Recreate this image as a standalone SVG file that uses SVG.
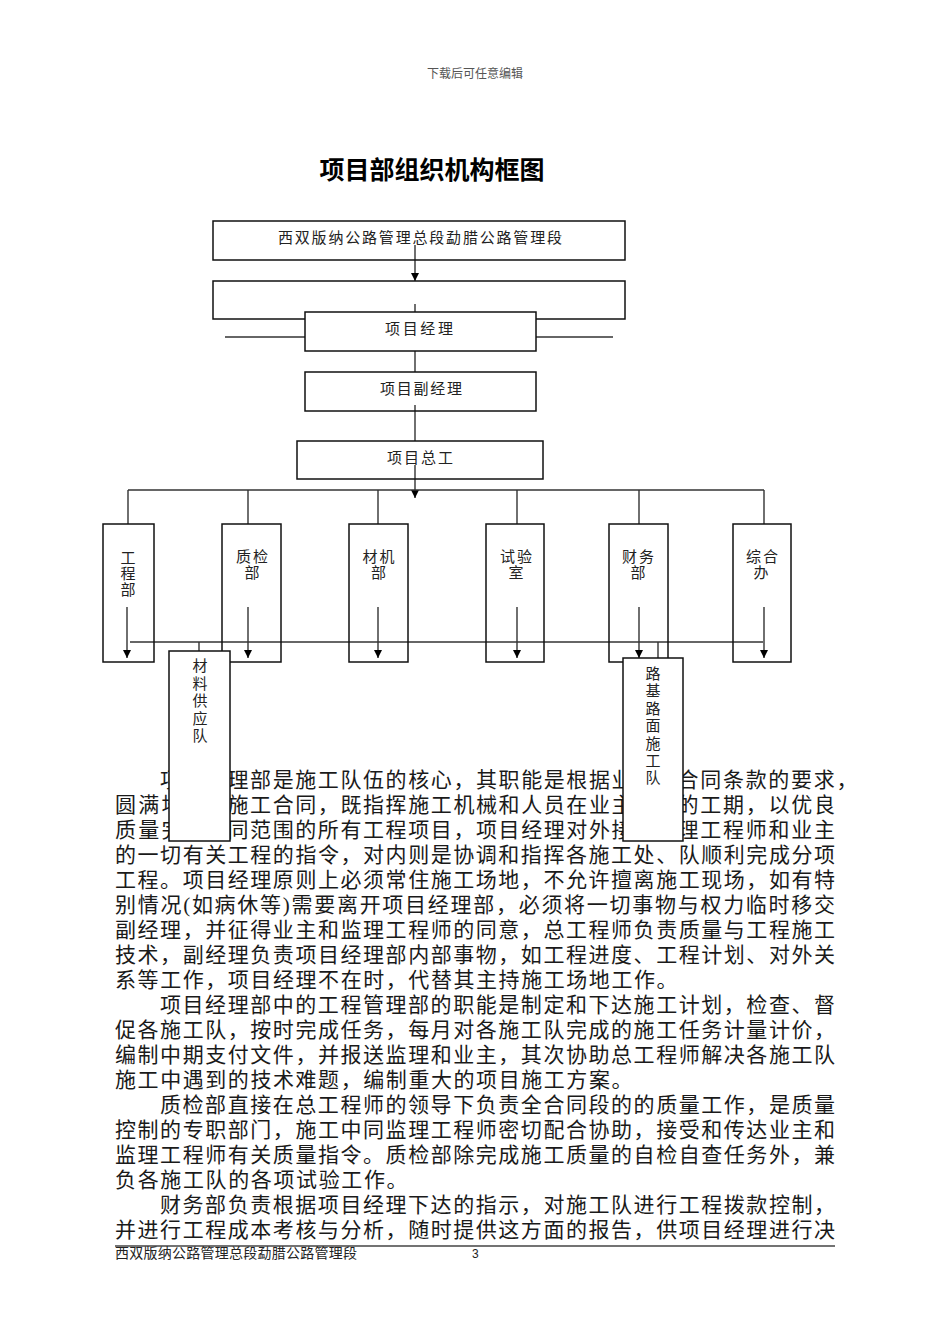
<svg xmlns="http://www.w3.org/2000/svg" width="950" height="1344" viewBox="0 0 950 1344">
<style>
text{font-family:"Liberation Serif","Noto Sans CJK SC",serif;}
.hdr{font-size:12px;fill:#555;}
.title{font-size:25px;font-weight:bold;fill:#000;font-family:"Noto Sans CJK SC",sans-serif;}
.lbl{font-size:15px;fill:#222;}
.body{font-size:21px;fill:#1a1a1a;}
.foot{font-size:14px;fill:#222;}
.box{fill:none;stroke:#111;stroke-width:1.5;}
.wbox{fill:#fff;stroke:#111;stroke-width:1.5;}
.ln{fill:none;stroke:#333;stroke-width:1.4;}
.arr{fill:none;stroke:#222;stroke-width:1.3;marker-end:url(#ah);}
</style>
<defs>
<marker id="ah" viewBox="0 0 10 10" refX="10" refY="5" markerWidth="8" markerHeight="8" markerUnits="userSpaceOnUse" orient="auto">
<path d="M0,0 L10,5 L0,10 Z" fill="#000"/>
</marker>
</defs>
<rect width="950" height="1344" fill="#fff"/>

<text class="hdr" x="475" y="78" text-anchor="middle">下载后可任意编辑</text>
<text class="title" x="432" y="179" text-anchor="middle">项目部组织机构框图</text>

<g id="connectors">
<line class="arr" x1="415" y1="245" x2="415" y2="281"/>
<line class="ln" x1="225" y1="337" x2="613" y2="337"/>
<line class="ln" x1="415" y1="304" x2="415" y2="312"/>
<line class="ln" x1="415" y1="351" x2="415" y2="372"/>
<line class="ln" x1="415" y1="405" x2="415" y2="441"/>
<line class="arr" x1="415" y1="465" x2="415" y2="498"/>
<line class="ln" x1="128" y1="490" x2="764" y2="490"/>
<line class="ln" x1="128" y1="490" x2="128" y2="524"/>
<line class="ln" x1="248" y1="490" x2="248" y2="524"/>
<line class="ln" x1="378" y1="490" x2="378" y2="524"/>
<line class="ln" x1="517" y1="490" x2="517" y2="524"/>
<line class="ln" x1="639" y1="490" x2="639" y2="524"/>
<line class="ln" x1="764" y1="490" x2="764" y2="524"/>
<line class="arr" x1="127" y1="607" x2="127" y2="658"/>
<line class="arr" x1="248" y1="607" x2="248" y2="658"/>
<line class="arr" x1="378" y1="607" x2="378" y2="658"/>
<line class="arr" x1="517" y1="607" x2="517" y2="658"/>
<line class="arr" x1="639" y1="607" x2="639" y2="658"/>
<line class="arr" x1="764" y1="607" x2="764" y2="658"/>
<line class="ln" x1="130" y1="642" x2="763" y2="642"/>
<line class="ln" x1="199" y1="642" x2="199" y2="651"/>
<line class="ln" x1="658" y1="642" x2="658" y2="658"/>
</g>

<g id="node-duan">
<rect class="box" x="213" y="221" width="412" height="39"/>
<text class="lbl" x="278" y="243" textLength="284" lengthAdjust="spacing">西双版纳公路管理总段勐腊公路管理段</text>
</g>
<g id="node-blank">
<rect class="box" x="213" y="281" width="412" height="38"/>
</g>
<g id="node-manager">
<rect class="wbox" x="305" y="312" width="231" height="39"/>
<text class="lbl" x="385" y="334" textLength="68" lengthAdjust="spacing">项目经理</text>
</g>
<g id="node-deputy">
<rect class="box" x="305" y="372" width="231" height="39"/>
<text class="lbl" x="380" y="394" textLength="82" lengthAdjust="spacing">项目副经理</text>
</g>
<g id="node-chief">
<rect class="box" x="297" y="441" width="246" height="38"/>
<text class="lbl" x="387" y="463" textLength="66" lengthAdjust="spacing">项目总工</text>
</g>

<g id="node-gongcheng">
<rect class="box" x="103" y="524" width="51" height="138"/>
<text class="lbl" text-anchor="middle"><tspan x="128" y="563">工</tspan><tspan x="128" y="579">程</tspan><tspan x="128" y="595">部</tspan></text>
</g>
<g id="node-zhijian">
<rect class="box" x="222" y="524" width="59" height="138"/>
<text class="lbl" x="236" y="562" textLength="32" lengthAdjust="spacing">质检</text>
<text class="lbl" x="252" y="578" text-anchor="middle">部</text>
</g>
<g id="node-caiji">
<rect class="box" x="349" y="524" width="59" height="138"/>
<text class="lbl" x="362.5" y="562" textLength="32" lengthAdjust="spacing">材机</text>
<text class="lbl" x="378.5" y="578" text-anchor="middle">部</text>
</g>
<g id="node-shiyan">
<rect class="box" x="486" y="524" width="58" height="138"/>
<text class="lbl" x="500" y="562" textLength="32" lengthAdjust="spacing">试验</text>
<text class="lbl" x="516" y="578" text-anchor="middle">室</text>
</g>
<g id="node-caiwu">
<rect class="box" x="609" y="524" width="59" height="138"/>
<text class="lbl" x="622" y="562" textLength="32" lengthAdjust="spacing">财务</text>
<text class="lbl" x="638" y="578" text-anchor="middle">部</text>
</g>
<g id="node-zonghe">
<rect class="box" x="733" y="524" width="58" height="138"/>
<text class="lbl" x="746" y="562" textLength="32" lengthAdjust="spacing">综合</text>
<text class="lbl" x="761" y="578" text-anchor="middle">办</text>
</g>

<g id="body-text" class="body">
<text class="body" x="160" y="787">项</text>
<text class="body" x="227.5" y="787" textLength="405" lengthAdjust="spacing">理部是施工队伍的核心，其职能是根据业</text>
<text class="body" x="677.5" y="787" textLength="180" lengthAdjust="spacing">合同条款的要求，</text>
<text class="body" x="115" y="812" textLength="67.5" lengthAdjust="spacing">圆满地</text>
<text class="body" x="227.5" y="812" textLength="405" lengthAdjust="spacing">施工合同，既指挥施工机械和人员在业主</text>
<text class="body" x="677.5" y="812" textLength="157.5" lengthAdjust="spacing">的工期，以优良</text>
<text class="body" x="115" y="837" textLength="67.5" lengthAdjust="spacing">质量完</text>
<text class="body" x="227.5" y="837" textLength="405" lengthAdjust="spacing">同范围的所有工程项目，项目经理对外接</text>
<text class="body" x="677.5" y="837" textLength="157.5" lengthAdjust="spacing">理工程师和业主</text>
<text class="body" x="115" y="862" textLength="720" lengthAdjust="spacing">的一切有关工程的指令，对内则是协调和指挥各施工处、队顺利完成分项</text>
<text class="body" x="115" y="887" textLength="720" lengthAdjust="spacing">工程。项目经理原则上必须常住施工场地，不允许擅离施工现场，如有特</text>
<text class="body" x="115" y="912" textLength="720" lengthAdjust="spacing">别情况(如病休等)需要离开项目经理部，必须将一切事物与权力临时移交</text>
<text class="body" x="115" y="937" textLength="720" lengthAdjust="spacing">副经理，并征得业主和监理工程师的同意，总工程师负责质量与工程施工</text>
<text class="body" x="115" y="962" textLength="720" lengthAdjust="spacing">技术，副经理负责项目经理部内部事物，如工程进度、工程计划、对外关</text>
<text class="body" x="115" y="987" textLength="562.5" lengthAdjust="spacing">系等工作，项目经理不在时，代替其主持施工场地工作。</text>
<text class="body" x="160" y="1012" textLength="675" lengthAdjust="spacing">项目经理部中的工程管理部的职能是制定和下达施工计划，检查、督</text>
<text class="body" x="115" y="1037" textLength="720" lengthAdjust="spacing">促各施工队，按时完成任务，每月对各施工队完成的施工任务计量计价，</text>
<text class="body" x="115" y="1062" textLength="720" lengthAdjust="spacing">编制中期支付文件，并报送监理和业主，其次协助总工程师解决各施工队</text>
<text class="body" x="115" y="1087" textLength="517.5" lengthAdjust="spacing">施工中遇到的技术难题，编制重大的项目施工方案。</text>
<text class="body" x="160" y="1112" textLength="675" lengthAdjust="spacing">质检部直接在总工程师的领导下负责全合同段的的质量工作，是质量</text>
<text class="body" x="115" y="1137" textLength="720" lengthAdjust="spacing">控制的专职部门，施工中同监理工程师密切配合协助，接受和传达业主和</text>
<text class="body" x="115" y="1162" textLength="720" lengthAdjust="spacing">监理工程师有关质量指令。质检部除完成施工质量的自检自查任务外，兼</text>
<text class="body" x="115" y="1187" textLength="292.5" lengthAdjust="spacing">负各施工队的各项试验工作。</text>
<text class="body" x="160" y="1212" textLength="675" lengthAdjust="spacing">财务部负责根据项目经理下达的指示，对施工队进行工程拨款控制，</text>
<text class="body" x="115" y="1237" textLength="720" lengthAdjust="spacing">并进行工程成本考核与分析，随时提供这方面的报告，供项目经理进行决</text>
</g>

<g id="node-cailiao">
<rect class="wbox" x="169" y="651" width="61" height="190"/>
<text class="lbl" text-anchor="middle"><tspan x="200" y="671">材</tspan><tspan x="200" y="688.5">料</tspan><tspan x="200" y="706">供</tspan><tspan x="200" y="723.5">应</tspan><tspan x="200" y="741">队</tspan></text>
</g>
<g id="node-lujilumian">
<rect class="wbox" x="623" y="658" width="60" height="183"/>
<text class="lbl" text-anchor="middle"><tspan x="653" y="679">路</tspan><tspan x="653" y="696.4">基</tspan><tspan x="653" y="713.8">路</tspan><tspan x="653" y="731.2">面</tspan><tspan x="653" y="748.6">施</tspan><tspan x="653" y="766">工</tspan><tspan x="653" y="783.4">队</tspan></text>
</g>

<line x1="115" y1="1246" x2="835" y2="1246" stroke="#444" stroke-width="1.6"/>
<text class="foot" x="115" y="1258" textLength="242" lengthAdjust="spacing">西双版纳公路管理总段勐腊公路管理段</text>
<text x="472" y="1258" style="font-family:'Liberation Sans',sans-serif;font-size:12px;fill:#222">3</text>
</svg>
